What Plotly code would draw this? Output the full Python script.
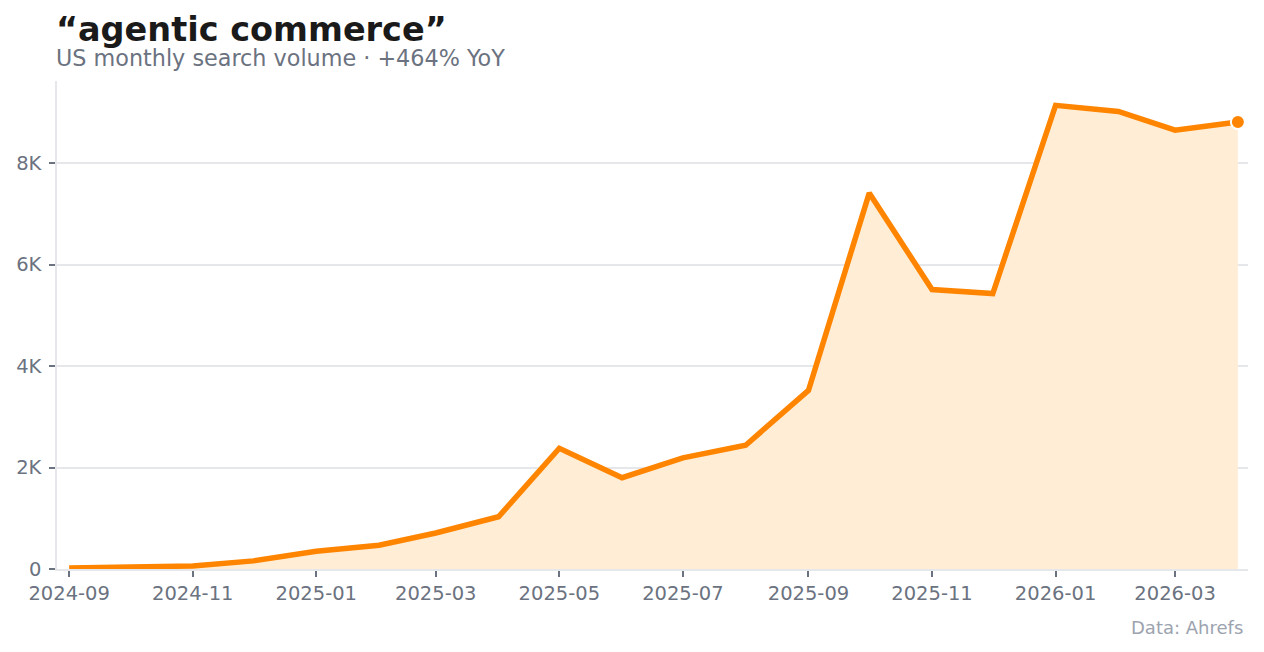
import plotly.graph_objects as go

months = ["2024-09-01", "2024-10-01", "2024-11-01", "2024-12-01", "2025-01-01",
          "2025-02-01", "2025-03-01", "2025-04-01", "2025-05-01", "2025-06-01",
          "2025-07-01", "2025-08-01", "2025-09-01", "2025-10-01", "2025-11-01",
          "2025-12-01", "2026-01-01", "2026-02-01", "2026-03-01", "2026-04-01"]
volume = [20, 40, 60, 160, 350, 470, 710, 1030, 2380, 1800,
          2190, 2440, 3520, 7410, 5510, 5430, 9140, 9020, 8650, 8810]
y_ticks = [0, 2000, 4000, 6000, 8000]
y_tick_labels = ["0", "2K", "4K", "6K", "8K"]

ORANGE = "#FF8500"
FONT = "DejaVu Sans"

fig = go.Figure()
fig.add_trace(go.Scatter(
    x=months, y=volume, mode="lines", fill="tozeroy",
    fillcolor="#FFEDD6", line=dict(color=ORANGE, width=5.5),
    hoverinfo="x+y", showlegend=False))
fig.add_trace(go.Scatter(
    x=[months[-1]], y=[volume[-1]], mode="markers",
    marker=dict(color=ORANGE, size=14, line=dict(color="white", width=2)),
    showlegend=False))

fig.update_layout(
    width=1264, height=652,
    margin=dict(l=57, r=16, t=81, b=83),
    paper_bgcolor="white", plot_bgcolor="white",
    font=dict(family=FONT, color="#6b7280", size=19),
    xaxis=dict(
        range=["2024-08-26", "2026-04-06"],
        tickformat="%Y-%m", dtick="M2", tick0="2024-09-01",
        showgrid=False, showline=True, linecolor="#e5e7eb", linewidth=1.5,
        ticks="outside", ticklen=6, tickcolor="#6b7280", tickwidth=2,
        tickfont=dict(size=19.5, color="#6b7280"), zeroline=False),
    yaxis=dict(
        range=[0, 9620], tickvals=y_ticks, ticktext=y_tick_labels,
        showgrid=True, gridcolor="#e5e7eb", gridwidth=1.5,
        showline=True, linecolor="#e5e7eb", linewidth=1.5,
        ticks="outside", ticklen=6, tickcolor="#6b7280", tickwidth=2,
        ticklabelstandoff=4,
        tickfont=dict(size=19.5, color="#6b7280"), zeroline=False),
    annotations=[
        dict(text="<b>“agentic commerce”</b>", xref="paper", yref="paper",
             x=-3 / 1191, y=(569 - 30) / 488, xanchor="left", yanchor="middle",
             showarrow=False, font=dict(family=FONT, size=33.5, color="#1a1a1a")),
        dict(text="US monthly search volume · +464% YoY", xref="paper", yref="paper",
             x=-3 / 1191, y=(569 - 57.5) / 488, xanchor="left", yanchor="middle",
             showarrow=False, font=dict(family=FONT, size=22.3, color="#6b7280")),
        dict(text="Data: Ahrefs", xref="paper", yref="paper",
             x=(1245 - 57) / 1191, y=(569 - 627) / 488, xanchor="right", yanchor="middle",
             showarrow=False, font=dict(family=FONT, size=18, color="#9ca3af")),
    ],
)

fig.write_html("out.html")
